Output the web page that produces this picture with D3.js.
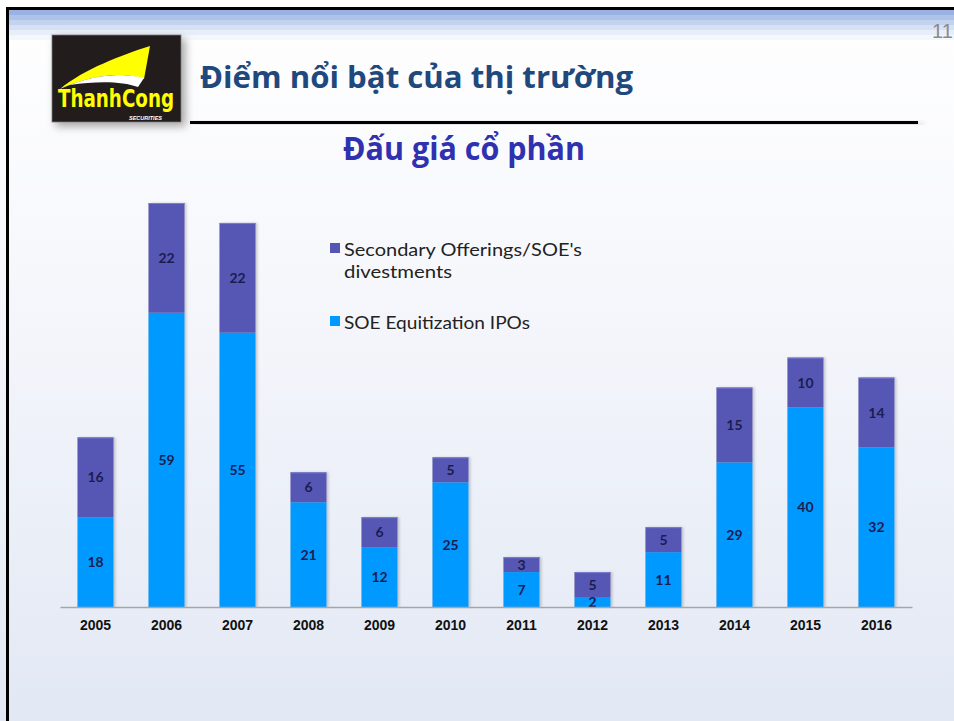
<!DOCTYPE html>
<html>
<head>
<meta charset="utf-8">
<script src="https://cdn.jsdelivr.net/npm/d3@7"></script>
<style>
  html, body { margin: 0; padding: 0; background: #fff; }
  svg { display: block; }
</style>
</head>
<body>
<svg id="chart" width="954" height="721"></svg>
<script>
// chart data
const years = ["2005", "2006", "2007", "2008", "2009", "2010", "2011", "2012", "2013", "2014", "2015", "2016"];
const ipos = [18, 59, 55, 21, 12, 25, 7, 2, 11, 29, 40, 32];
const secondary = [16, 22, 22, 6, 6, 5, 3, 5, 5, 15, 10, 14];
const seriesColors = ["#5657b5", "#0099ff"];

const svg = d3.select("#chart");
const W = 954, H = 721;
const defs = svg.append("defs");

// slide background
const bg = defs.append("linearGradient").attr("id", "bg").attr("x1", 0).attr("y1", 0).attr("x2", 0).attr("y2", 1);
bg.append("stop").attr("offset", "0%").attr("stop-color", "#ffffff");
bg.append("stop").attr("offset", "35%").attr("stop-color", "#f7f8fc");
bg.append("stop").attr("offset", "100%").attr("stop-color", "#e2e8f4");
svg.append("rect").attr("width", W).attr("height", H).attr("fill", "url(#bg)");

// top stripes
const stripes = ["#9ab2e2", "#aec3e9", "#c2d2ef", "#d6e1f5", "#e8eef9", "#f4f7fc"];
svg.selectAll("rect.stripe").data(stripes).join("rect")
  .attr("class", "stripe")
  .attr("x", 9).attr("y", (d, i) => 10 + i * 5)
  .attr("width", W).attr("height", 5)
  .attr("fill", d => d);

// frame
svg.append("rect").attr("x", 6).attr("y", 7).attr("width", W).attr("height", 3).attr("fill", "#000");
svg.append("rect").attr("x", 6).attr("y", 7).attr("width", 3).attr("height", H).attr("fill", "#000");

// page number
svg.append("text").attr("x", 932).attr("y", 38)
  .attr("font-family", "Liberation Sans, Arial, sans-serif").attr("font-size", 20)
  .attr("fill", "#8a8a8a").text("11");

// shadows
const sh = defs.append("filter").attr("id", "shadow").attr("x", "-20%").attr("y", "-20%").attr("width", "150%").attr("height", "150%");
sh.append("feDropShadow").attr("dx", 4).attr("dy", 4).attr("stdDeviation", 4).attr("flood-color", "#000").attr("flood-opacity", 0.35);
const bsh = defs.append("filter").attr("id", "barshadow").attr("x", "-20%").attr("y", "-5%").attr("width", "150%").attr("height", "110%");
bsh.append("feDropShadow").attr("dx", 2).attr("dy", 0).attr("stdDeviation", 1.2).attr("flood-color", "#000").attr("flood-opacity", 0.18);

// logo
const logo = svg.append("g").attr("transform", "translate(52,35)");
logo.append("rect").attr("width", 129).attr("height", 87).attr("fill", "#221e1b")
  .attr("stroke", "#777").attr("stroke-width", 0.8).attr("filter", "url(#shadow)");
logo.append("path").attr("d", "M8,54 C32,34 70,20 98,11 L92,44 C70,36 40,40 8,54 Z").attr("fill", "#ffff00");
logo.append("path").attr("d", "M18,50 C42,40 70,37 92,43 L86,52 C70,46 44,46 18,50 Z").attr("fill", "#ffffff");
logo.append("text").attr("x", 64).attr("y", 72).attr("text-anchor", "middle")
  .attr("font-family", "Liberation Sans Narrow, DejaVu Sans Condensed, sans-serif")
  .attr("font-weight", "bold").attr("font-size", 25).attr("fill", "#ffff00")
  .attr("textLength", 116).attr("lengthAdjust", "spacingAndGlyphs").text("ThanhCong");
logo.append("text").attr("x", 110).attr("y", 85).attr("text-anchor", "end")
  .attr("font-family", "Liberation Sans, sans-serif").attr("font-style", "italic").attr("font-weight", "bold")
  .attr("font-size", 5.5).attr("fill", "#ffffff").text("SECURITIES");

// title
svg.append("text").attr("x", 200).attr("y", 88)
  .attr("font-family", "Open Sans, Noto Sans, sans-serif").attr("font-weight", "bold")
  .attr("font-size", 30).attr("fill", "#1f487c")
  .attr("textLength", 433).attr("lengthAdjust", "spacingAndGlyphs")
  .text("Điểm nổi bật của thị trường");
svg.append("rect").attr("x", 190).attr("y", 121).attr("width", 728).attr("height", 3)
  .attr("fill", "#000").attr("filter", "url(#shadow)");

svg.append("text").attr("x", 464).attr("y", 160).attr("text-anchor", "middle")
  .attr("font-family", "Open Sans, Noto Sans, sans-serif").attr("font-weight", "bold")
  .attr("font-size", 32).attr("fill", "#2f31b0")
  .attr("textLength", 242).attr("lengthAdjust", "spacingAndGlyphs")
  .text("Đấu giá cổ phần");

// chart
const x = d3.scaleBand().domain(years).range([60, 912]).paddingInner(0.493).paddingOuter(0.247);
const y = d3.scaleLinear().domain([0, 81]).range([607, 203]);

const rows = years.map((yr, i) => ({ year: yr, ipo: ipos[i], secondary: secondary[i] }));
const stack = d3.stack().keys(["ipo", "secondary"])(rows);
const colorOf = { ipo: seriesColors[1], secondary: seriesColors[0] };

const barG = svg.append("g");
barG.selectAll("rect.shadow").data(rows).join("rect")
  .attr("class", "shadow")
  .attr("x", d => x(d.year)).attr("y", d => y(d.ipo + d.secondary))
  .attr("width", x.bandwidth()).attr("height", d => y(0) - y(d.ipo + d.secondary))
  .attr("fill", "#ccc").attr("filter", "url(#barshadow)");

const layers = barG.selectAll("g.layer").data(stack).join("g")
  .attr("class", "layer")
  .attr("fill", d => colorOf[d.key]);
layers.selectAll("rect").data(d => d).join("rect")
  .attr("x", d => x(d.data.year)).attr("y", d => y(d[1]))
  .attr("width", x.bandwidth()).attr("height", d => y(d[0]) - y(d[1]));

// top edge highlight on the secondary segment
barG.selectAll("line.top").data(rows).join("line")
  .attr("class", "top")
  .attr("x1", d => x(d.year)).attr("x2", d => x(d.year) + x.bandwidth())
  .attr("y1", d => y(d.ipo + d.secondary) + 0.5).attr("y2", d => y(d.ipo + d.secondary) + 0.5)
  .attr("stroke", "#7b7ed0").attr("stroke-width", 1);

// value labels
layers.selectAll("text").data(d => d).join("text")
  .attr("x", d => x(d.data.year) + x.bandwidth() / 2)
  .attr("y", d => (y(d[0]) + y(d[1])) / 2)
  .attr("dy", "0.36em").attr("text-anchor", "middle")
  .attr("font-family", "Lato, Noto Sans, sans-serif").attr("font-weight", "bold")
  .attr("font-size", 14).attr("fill", "#1a1d50")
  .text(d => d[1] - d[0]);

// x axis
const xAxis = svg.append("g").attr("transform", "translate(0,607)")
  .call(d3.axisBottom(x).tickSize(0).tickPadding(13));
xAxis.select(".domain").attr("stroke", "#a6a6a6").attr("stroke-width", 1.5);
xAxis.selectAll("text")
  .attr("font-family", "Liberation Sans, Arial, sans-serif").attr("font-weight", "bold")
  .attr("font-size", 14).attr("fill", "#111");

// legend
const legend = svg.append("g").attr("font-family", "Lato, Noto Sans, sans-serif").attr("font-size", 17).attr("fill", "#222");
legend.append("rect").attr("x", 330).attr("y", 243).attr("width", 10).attr("height", 10).attr("fill", seriesColors[0]);
legend.append("text").attr("x", 344).attr("y", 256).attr("textLength", 238).attr("lengthAdjust", "spacingAndGlyphs").text("Secondary Offerings/SOE's");
legend.append("text").attr("x", 344).attr("y", 278).attr("textLength", 108).attr("lengthAdjust", "spacingAndGlyphs").text("divestments");
legend.append("rect").attr("x", 330).attr("y", 316).attr("width", 10).attr("height", 10).attr("fill", seriesColors[1]);
legend.append("text").attr("x", 344).attr("y", 329).attr("textLength", 186).attr("lengthAdjust", "spacingAndGlyphs").text("SOE Equitization IPOs");
</script>
</body>
</html>
